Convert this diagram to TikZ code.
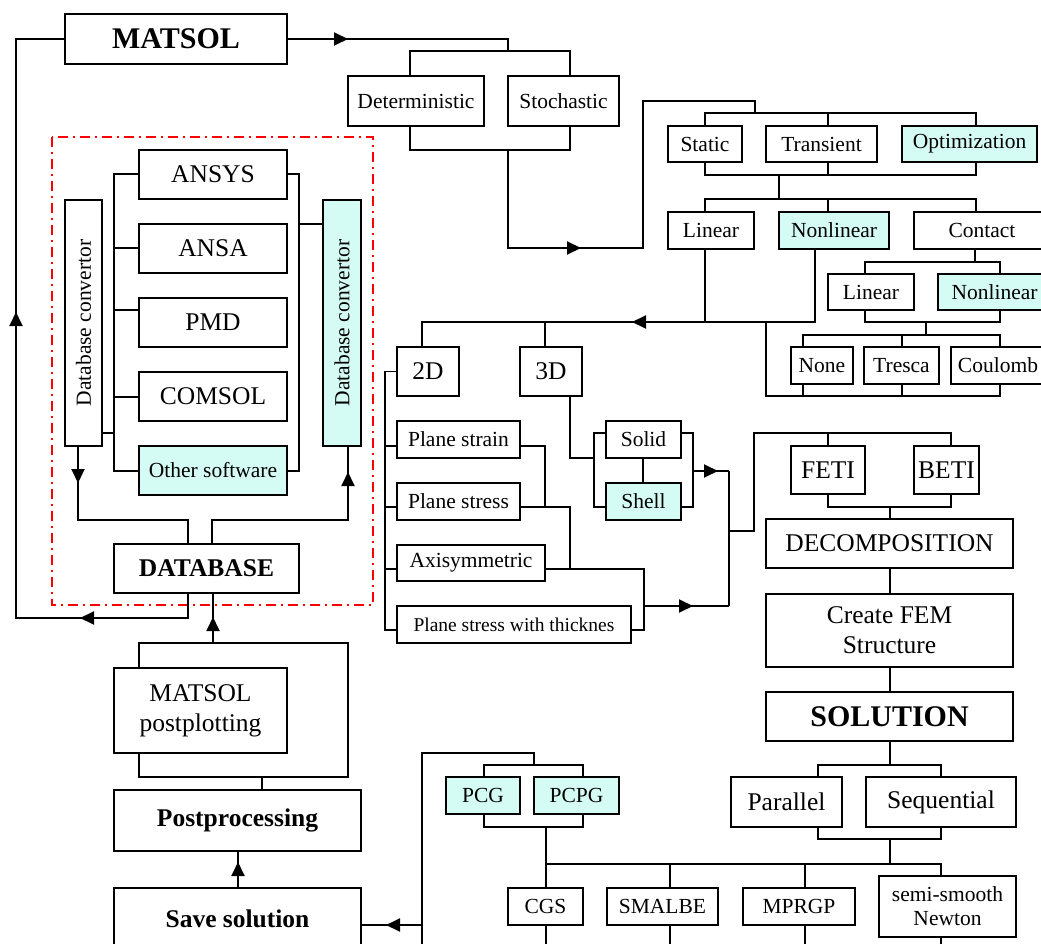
\documentclass[tikz,border=0pt]{standalone}
\usepackage{fontspec}
\setmainfont{Liberation Serif}
\usepackage{graphicx}
\usetikzlibrary{arrows.meta,decorations.markings}
\definecolor{cy}{RGB}{213,252,244}
\newcommand\fA{\fontsize{30}{34}\selectfont\bfseries}
\newcommand\fB{\fontsize{25.5}{30}\selectfont}
\newcommand\fC{\fontsize{21.5}{24}\selectfont}
\newcommand\fD{\fontsize{19.5}{22}\selectfont}
\tikzset{Tri/.tip={Triangle[length=14pt,width=13pt]}}
\begin{document}
\begin{tikzpicture}[x=1pt,y=-1pt,line width=1.9pt,
  bx/.style 2 args={draw,inner sep=0pt,outer sep=0pt,align=center,minimum width=#1,minimum height=#2},
  arr/.style={postaction={decorate,decoration={markings,mark=at position #1 with {\arrow{Tri}}}}},
  arr2/.style 2 args={postaction={decorate,decoration={markings,mark=at position #1 with {\arrow{Tri}},mark=at position #2 with {\arrow{Tri}}}}},
  frame/.style={red,line width=1.8pt,dash pattern=on 10pt off 5pt on 2pt off 5pt}]
\useasboundingbox (0,0) rectangle (1041,944);
\clip (0,0) rectangle (1041,944);

% nodes
\node[bx={222}{50},font=\fA] (matsol) at (176,39) {MATSOL};
\node[bx={136}{50},font=\fC] (det) at (416,101) {Deterministic};
\node[bx={111}{50},font=\fC] (sto) at (563.5,101) {Stochastic};
\node[bx={74}{36},font=\fC] (static) at (705,144) {Static};
\node[bx={111}{36},font=\fC] (trans) at (821.5,144) {Transient};
\node[bx={135}{36},font=\fC,fill=cy] (optim) at (969.5,144) {Optimization};
\node[bx={86}{37},font=\fC] (lin) at (711,230.5) {Linear};
\node[bx={110}{37},font=\fC,fill=cy] (nonlin) at (834,230.5) {Nonlinear};
\node[bx={136}{37},font=\fC] (contact) at (982,230.5) {Contact};
\node[bx={86}{36},font=\fC] (clin) at (871,292) {Linear};
\node[bx={113}{36},font=\fC,fill=cy] (cnonlin) at (994.5,292) {Nonlinear};
\node[bx={62}{37},font=\fC] (none) at (822,365.5) {None};
\node[bx={75}{37},font=\fC] (tresca) at (901.5,365.5) {Tresca};
\node[bx={94}{37},font=\fC] (coulomb) at (998,365.5) {Coulomb};
\node[bx={62}{49},font=\fB] (d2) at (428,371.5) {2D};
\node[bx={62}{49},font=\fB] (d3) at (551,371.5) {3D};
\node[bx={123}{37},font=\fC] (pstrain) at (458.5,439.5) {Plane strain};
\node[bx={123}{37},font=\fC] (pstress) at (458.5,501.5) {Plane stress};
\node[bx={148}{36},font=\fC] (axi) at (471,563) {Axisymmetric};
\node[bx={234}{37},font=\fD] (pswt) at (514,624.5) {Plane stress with thicknes};
\node[bx={75}{37},font=\fC] (solid) at (643.5,439.5) {Solid};
\node[bx={75}{37},font=\fC,fill=cy] (shell) at (643.5,501.5) {Shell};
\node[bx={74}{48},font=\fB] (feti) at (828,470) {FETI};
\node[bx={65}{48},font=\fB] (beti) at (946.5,470) {BETI};
\node[bx={247}{49},font=\fB] (decomp) at (889.5,543.5) {DECOMPOSITION};
\node[bx={247}{73},font=\fB] (fem) at (889.5,630.5) {Create FEM\\Structure};
\node[bx={247}{49},font=\fA] (sol) at (889.5,716.5) {SOLUTION};
\node[bx={111}{50},font=\fB] (par) at (786.5,802) {Parallel};
\node[bx={150}{50},font=\fB] (seq) at (941,802) {Sequential};
\node[bx={74}{37},font=\fC,fill=cy] (pcg) at (483,795.5) {PCG};
\node[bx={85}{37},font=\fC,fill=cy] (pcpg) at (576.5,795.5) {PCPG};
\node[bx={75}{37},font=\fC] (cgs) at (545.5,906.5) {CGS};
\node[bx={111}{37},font=\fC] (smalbe) at (662.5,906.5) {SMALBE};
\node[bx={112}{37},font=\fC] (mprgp) at (799,906.5) {MPRGP};
\node[bx={137}{61},font=\fC] (ssn) at (947.5,906.5) {semi-smooth\\Newton};
\node[bx={37}{246},font=\fC] (ldc) at (83.5,323) {\rotatebox{90}{Database convertor}};
\node[bx={38}{246},font=\fC,fill=cy] (rdc) at (342,323) {\rotatebox{90}{Database convertor}};
\node[bx={148}{49},font=\fB] (ansys) at (213,174.5) {ANSYS};
\node[bx={148}{49},font=\fB] (ansa) at (213,248.5) {ANSA};
\node[bx={148}{49},font=\fB] (pmd) at (213,322.5) {PMD};
\node[bx={148}{49},font=\fB] (comsol) at (213,396.5) {COMSOL};
\node[bx={148}{49},font=\fC,fill=cy] (other) at (213,470.5) {Other software};
\node[bx={185}{49},font=\fB\bfseries] (db) at (206.5,568.5) {DATABASE};
\node[bx={173}{85},font=\fB] (mpp) at (200.5,710.5) {MATSOL\\postplotting};
\node[bx={247}{61},font=\fB\bfseries] (post) at (237.5,820.5) {Postprocessing};
\node[bx={247}{62},font=\fB\bfseries] (save) at (237.5,919) {Save solution};

% red frame
\draw[frame] (52,137) rectangle (373,605);

% MATSOL loops
\draw[arr2={133pt}{503pt}] (db.south -| 188,0) -- (188,618) -- (16,618) -- (16,39) -- (matsol.west);
\draw[arr={61pt}] (matsol.east) -- (508,39) -- (508,51);
\draw (det.north -| 410,0) -- (410,51) -- (570,51) -- (sto.north -| 570,0);
\draw (det.south -| 410,0) -- (410,150) -- (570,150) -- (sto.south -| 570,0);
\draw[arr={171pt}] (508,150) -- (508,248) -- (643,248) -- (643,101) -- (755,101) -- (755,113);

% analysis type
\draw (static.north) -- (705,113) -- (976,113) -- (optim.north -| 976,0);
\draw (828,113) -- (trans.north -| 828,0);
\draw (static.south) -- (705,175) -- (976,175) -- (optim.south -| 976,0);
\draw (trans.south -| 828,0) -- (828,175);
\draw (779,175) -- (779,199);
\draw (lin.north -| 705,0) -- (705,199) -- (976,199) -- (contact.north -| 976,0);
\draw (828,199) -- (nonlin.north -| 828,0);
\draw (contact.south -| 975,0) -- (975,262);
\draw (clin.north -| 865,0) -- (865,262) -- (1000,262) -- (cnonlin.north -| 1000,0);
\draw (clin.south -| 865,0) -- (865,322) -- (1000,322) -- (cnonlin.south -| 1000,0);
\draw (926,322) -- (926,335);
\draw (none.north -| 803,0) -- (803,335) -- (1000,335) -- (coulomb.north -| 1000,0);
\draw (902,335) -- (tresca.north -| 902,0);
\draw (none.south -| 803,0) -- (803,396) -- (1000,396) -- (coulomb.south -| 1000,0);
\draw (tresca.south -| 902,0) -- (902,396);
\draw (803,396) -- (766,396) -- (766,322);
\draw (lin.south -| 705,0) -- (705,322);
\draw[arr={256pt}] (nonlin.south -| 815,0) -- (815,322) -- (422,322) -- (d2.north -| 422,0);
\draw (545,322) -- (d3.north -| 545,0);

% 2D
\draw (d2.west) -- (385,371.5) -- (385,630) -- (pswt.west |- 0,630);
\draw (385,446) -- (pstrain.west |- 0,446);
\draw (385,507) -- (pstress.west |- 0,507);
\draw (385,569) -- (axi.west |- 0,569);
\draw (pstrain.east |- 0,446) -- (545,446) -- (545,507);
\draw (pstress.east |- 0,507) -- (570,507) -- (570,569);
\draw (axi.east |- 0,569) -- (644,569) -- (644,630) -- (pswt.east |- 0,630);
\draw[arr={49pt}] (644,606) -- (729,606);
\draw[arr={25pt}] (693,471) -- (729,471);
\draw (729,471) -- (729,606);
\draw (729,531) -- (754,531) -- (754,433) -- (951,433) -- (beti.north -| 951,0);
\draw (828,433) -- (feti.north -| 828,0);

% 3D
\draw (d3.south -| 570,0) -- (570,458) -- (594,458);
\draw (solid.west |- 0,433) -- (594,433) -- (594,507) -- (shell.west |- 0,507);
\draw (solid.south -| 643,0) -- (shell.north -| 643,0);
\draw (solid.east |- 0,433) -- (693,433) -- (693,507) -- (shell.east |- 0,507);

% decomposition chain
\draw (feti.south -| 828,0) -- (828,507) -- (951,507) -- (beti.south -| 951,0);
\draw (890,507) -- (decomp.north -| 890,0);
\draw (decomp.south -| 890,0) -- (fem.north -| 890,0);
\draw (fem.south -| 890,0) -- (sol.north -| 890,0);
\draw (sol.south -| 890,0) -- (890,765);
\draw (par.north -| 818,0) -- (818,765) -- (941,765) -- (seq.north -| 941,0);
\draw (par.south -| 818,0) -- (818,839) -- (941,839) -- (seq.south -| 941,0);
\draw (890,839) -- (890,864);
\draw (cgs.north -| 546,0) -- (546,864) -- (941,864) -- (ssn.north -| 941,0);
\draw (670,864) -- (smalbe.north -| 670,0);
\draw (805,864) -- (mprgp.north -| 805,0);
\draw (pcg.north -| 484,0) -- (484,765) -- (583,765) -- (pcpg.north -| 583,0);
\draw (pcg.south -| 484,0) -- (484,827) -- (583,827) -- (pcpg.south -| 583,0);
\draw (546,827) -- (546,864);
\draw (534,765) -- (534,753) -- (422,753) -- (422,950);
\draw[arr={36pt}] (422,925) -- (save.east |- 0,925);
\draw (cgs.south -| 546,0) -- (546,950);
\draw (smalbe.south -| 670,0) -- (670,950);
\draw (mprgp.south -| 805,0) -- (805,950);
\draw (ssn.south -| 941,0) -- (941,950);

% database region
\draw (ansys.west |- 0,174) -- (114,174) -- (114,471) -- (other.west |- 0,471);
\draw (114,248) -- (ansa.west |- 0,248);
\draw (114,310) -- (pmd.west |- 0,310);
\draw (114,397) -- (comsol.west |- 0,397);
\draw (114,433) -- (ldc.east |- 0,433);
\draw (ansys.east |- 0,174) -- (299,174) -- (299,471) -- (other.east |- 0,471);
\draw (299,224) -- (rdc.west |- 0,224);
\draw[arr={37pt}] (ldc.south -| 78,0) -- (78,520) -- (188,520) -- (db.north -| 188,0);
\draw[arr={208pt}] (db.north -| 212,0) -- (212,520) -- (348,520) -- (rdc.south -| 348,0);

% post processing
\draw[arr={26pt}] (213,643) -- (db.south -| 213,0);
\draw (mpp.north -| 139,0) -- (139,643) -- (348,643) -- (348,777) -- (139,777) -- (mpp.south -| 139,0);
\draw (262,777) -- (post.north -| 262,0);
\draw[arr={26pt}] (save.north -| 238,0) -- (post.south -| 238,0);
\end{tikzpicture}
\end{document}
